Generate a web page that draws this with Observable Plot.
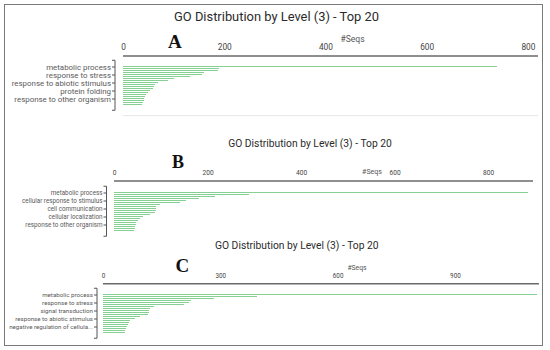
<!DOCTYPE html>
<html>
<head>
<meta charset="utf-8">
<script src="https://cdn.jsdelivr.net/npm/d3@7"></script>
<script src="https://cdn.jsdelivr.net/npm/@observablehq/plot@0.6"></script>
<style>
html,body{margin:0;padding:0;background:#fff;}
#wrap{position:relative;width:550px;height:350px;overflow:hidden;background:#fff;font-family:Roboto,"Noto Sans",sans-serif;}
#border{position:absolute;left:4px;top:4px;width:539px;height:342px;border:1.5px solid #7a7a7a;box-sizing:border-box;}
#wrap svg{position:absolute;left:0;}
</style>
</head>
<body>
<div id="wrap"><div id="border"></div></div>
<script>
// ---- data ----
const chartTitle = "GO Distribution by Level (3) - Top 20";
const axisTitle = "#Seqs";
const letters = ["A", "B", "C"];

const termsA = ["metabolic process","cellular metabolic process","primary metabolic process","organic substance metabolic process","response to stress","biosynthetic process","nitrogen compound metabolic process","response to chemical","response to abiotic stimulus","cellular component organization","regulation of cellular process","establishment of localization","protein folding","response to endogenous stimulus","cellular response to stimulus","response to external stimulus","response to other organism","response to biotic stimulus","cell communication","developmental process"];
const seqsA = [739,190,188,161,157,133,100,89,70,63,62,60,54,50,45,43,42,41,39,37];
const labeledA = ["metabolic process","response to stress","response to abiotic stimulus","protein folding","response to other organism"];
const ticksA = [0,200,400,600,800];

const termsB = ["metabolic process","cellular metabolic process","primary metabolic process","organic substance metabolic process","cellular response to stimulus","response to stress","biosynthetic process","nitrogen compound metabolic process","cell communication","signal transduction","response to chemical","regulation of cellular process","cellular localization","establishment of localization","response to abiotic stimulus","cellular component organization","response to other organism","response to biotic stimulus","response to external stimulus","protein folding"];
const seqsB = [886,289,215,182,155,141,98,90,89,89,87,77,61,55,52,48,46,45,44,43];
const labeledB = ["metabolic process","cellular response to stimulus","cell communication","cellular localization","response to other organism"];
const ticksB = [0,200,400,600,800];

const termsC = ["metabolic process","cellular metabolic process","primary metabolic process","organic substance metabolic process","response to stress","cellular response to stimulus","biosynthetic process","nitrogen compound metabolic process","signal transduction","cell communication","response to chemical","regulation of cellular process","response to abiotic stimulus","cellular component organization","establishment of localization","response to endogenous stimulus","negative regulation of cellular process","response to other organism","response to biotic stimulus","cellular localization"];
const seqsC = [1110,393,285,225,219,208,131,119,117,117,115,94,83,68,66,65,61,58,57,56];
const labeledC = ["metabolic process","response to stress","signal transduction","response to abiotic stimulus","negative regulation of cellular process"];
const ticksC = [0,300,600,900];

// ---- layout (page pixels) ----
const layout = [
  {svgTop:0, svgH:122, top:60.25, bottom:110.25, axisX:115, gap:8, xMax:820, xEnd:538, lineOff:4.25, tickPad:10.5, tickFont:8.3, font:7.9,
   titleX:276.5, titleY:16.7, titleSize:12.9, letterX:168, letterBase:47.7, letterSize:19, seqsX:352.6, seqsY:39.3, seqsSize:8.5, faint:115.7},
  {svgTop:122, svgH:118, top:186.25, bottom:236.25, axisX:106.5, gap:7.5, xMax:896, xEnd:533, lineOff:5.25, tickPad:11.4, tickFont:6.6, font:6.3,
   titleX:310, titleY:143, titleSize:10.3, letterX:172, letterBase:168.3, letterSize:18, seqsX:372, seqsY:171.5, seqsSize:7, faint:null},
  {svgTop:240, svgH:104, top:288.25, bottom:338.25, axisX:97, gap:6, xMax:1115, xEnd:539, lineOff:4.55, tickPad:11, tickFont:6.3, font:6.2,
   titleX:296.8, titleY:245.7, titleSize:10.3, letterX:175.5, letterBase:271.7, letterSize:19, seqsX:357, seqsY:267.7, seqsSize:6.8, faint:null}
];

const panels = [
  {terms: termsA, seqs: seqsA, labeled: labeledA, ticks: ticksA},
  {terms: termsB, seqs: seqsB, labeled: labeledB, ticks: ticksB},
  {terms: termsC, seqs: seqsC, labeled: labeledC, ticks: ticksC}
];

const trunc = s => s.length > 30 ? s.slice(0, 30) + "..." : s;
const wrap = document.getElementById("wrap");

panels.forEach((d, k) => {
  const L = layout[k];
  const T = L.svgTop;
  const rows = d.terms.map((term, i) => ({term, seqs: d.seqs[i]}));
  const decor = (index, scales, values, dims) => {
    const g = d3.create("svg:g").attr("fill", "none");
    const x0 = dims.marginLeft + L.gap, x1 = dims.width - dims.marginRight;
    const y0 = dims.marginTop, y1 = dims.height - dims.marginBottom;
    const ax = dims.marginLeft;
    g.append("line").attr("x1", x0).attr("x2", x1).attr("y1", y0 - L.lineOff).attr("y2", y0 - L.lineOff)
      .attr("stroke", "#6a6a6a").attr("stroke-width", 1.6);
    g.append("path").attr("d", `M${ax - 3},${y0}H${ax}V${y1}H${ax - 3}`)
      .attr("stroke", "#555").attr("stroke-width", 1);
    if (L.faint != null) {
      g.append("line").attr("x1", x0).attr("x2", x1).attr("y1", L.faint - T).attr("y2", L.faint - T)
        .attr("stroke", "#e6e6e6").attr("stroke-width", 1);
    }
    return g.node();
  };
  const svg = Plot.plot({
    width: 550, height: L.svgH,
    marginLeft: L.axisX, marginRight: 550 - L.xEnd, marginTop: L.top - T, marginBottom: T + L.svgH - L.bottom,
    style: {background: "transparent", overflow: "visible", fontFamily: "Roboto, sans-serif", color: "#555"},
    x: {domain: [0, L.xMax], insetLeft: L.gap},
    y: {domain: d.terms, paddingInner: 0.4, paddingOuter: 0.1},
    marks: [
      Plot.barX(rows, {x: "seqs", y: "term", fill: "#86d093", shapeRendering: "crispEdges"}),
      Plot.axisX({anchor: "top", ticks: d.ticks, tickSize: 0, tickPadding: L.tickPad, fontSize: L.tickFont, fill: "#444", label: null}),
      Plot.axisY({ticks: d.labeled, tickSize: 3, tickPadding: 1.5, fontSize: L.font, fill: "#5a5a5a", label: null, tickFormat: trunc}),
      decor
    ]
  });
  svg.style.top = T + "px";
  wrap.appendChild(svg);
});

const overlay = d3.select(wrap).append("svg").attr("width", 550).attr("height", 350).style("top", "0px").style("pointer-events", "none");
layout.forEach((L, k) => {
  overlay.append("text").attr("x", L.titleX).attr("y", L.titleY)
    .attr("text-anchor", "middle").attr("dominant-baseline", "central")
    .attr("font-family", "Roboto, sans-serif").attr("font-size", L.titleSize).attr("fill", "#2b2b2b")
    .text(chartTitle);
  overlay.append("text").attr("x", L.letterX).attr("y", L.letterBase)
    .attr("font-family", "'Liberation Serif', serif").attr("font-weight", "bold")
    .attr("font-size", L.letterSize).attr("fill", "#111").text(letters[k]);
  overlay.append("text").attr("x", L.seqsX).attr("y", L.seqsY)
    .attr("text-anchor", "middle").attr("dominant-baseline", "central")
    .attr("font-family", "Roboto, sans-serif").attr("font-size", L.seqsSize).attr("fill", "#555")
    .text(axisTitle);
});
</script>
</body>
</html>
